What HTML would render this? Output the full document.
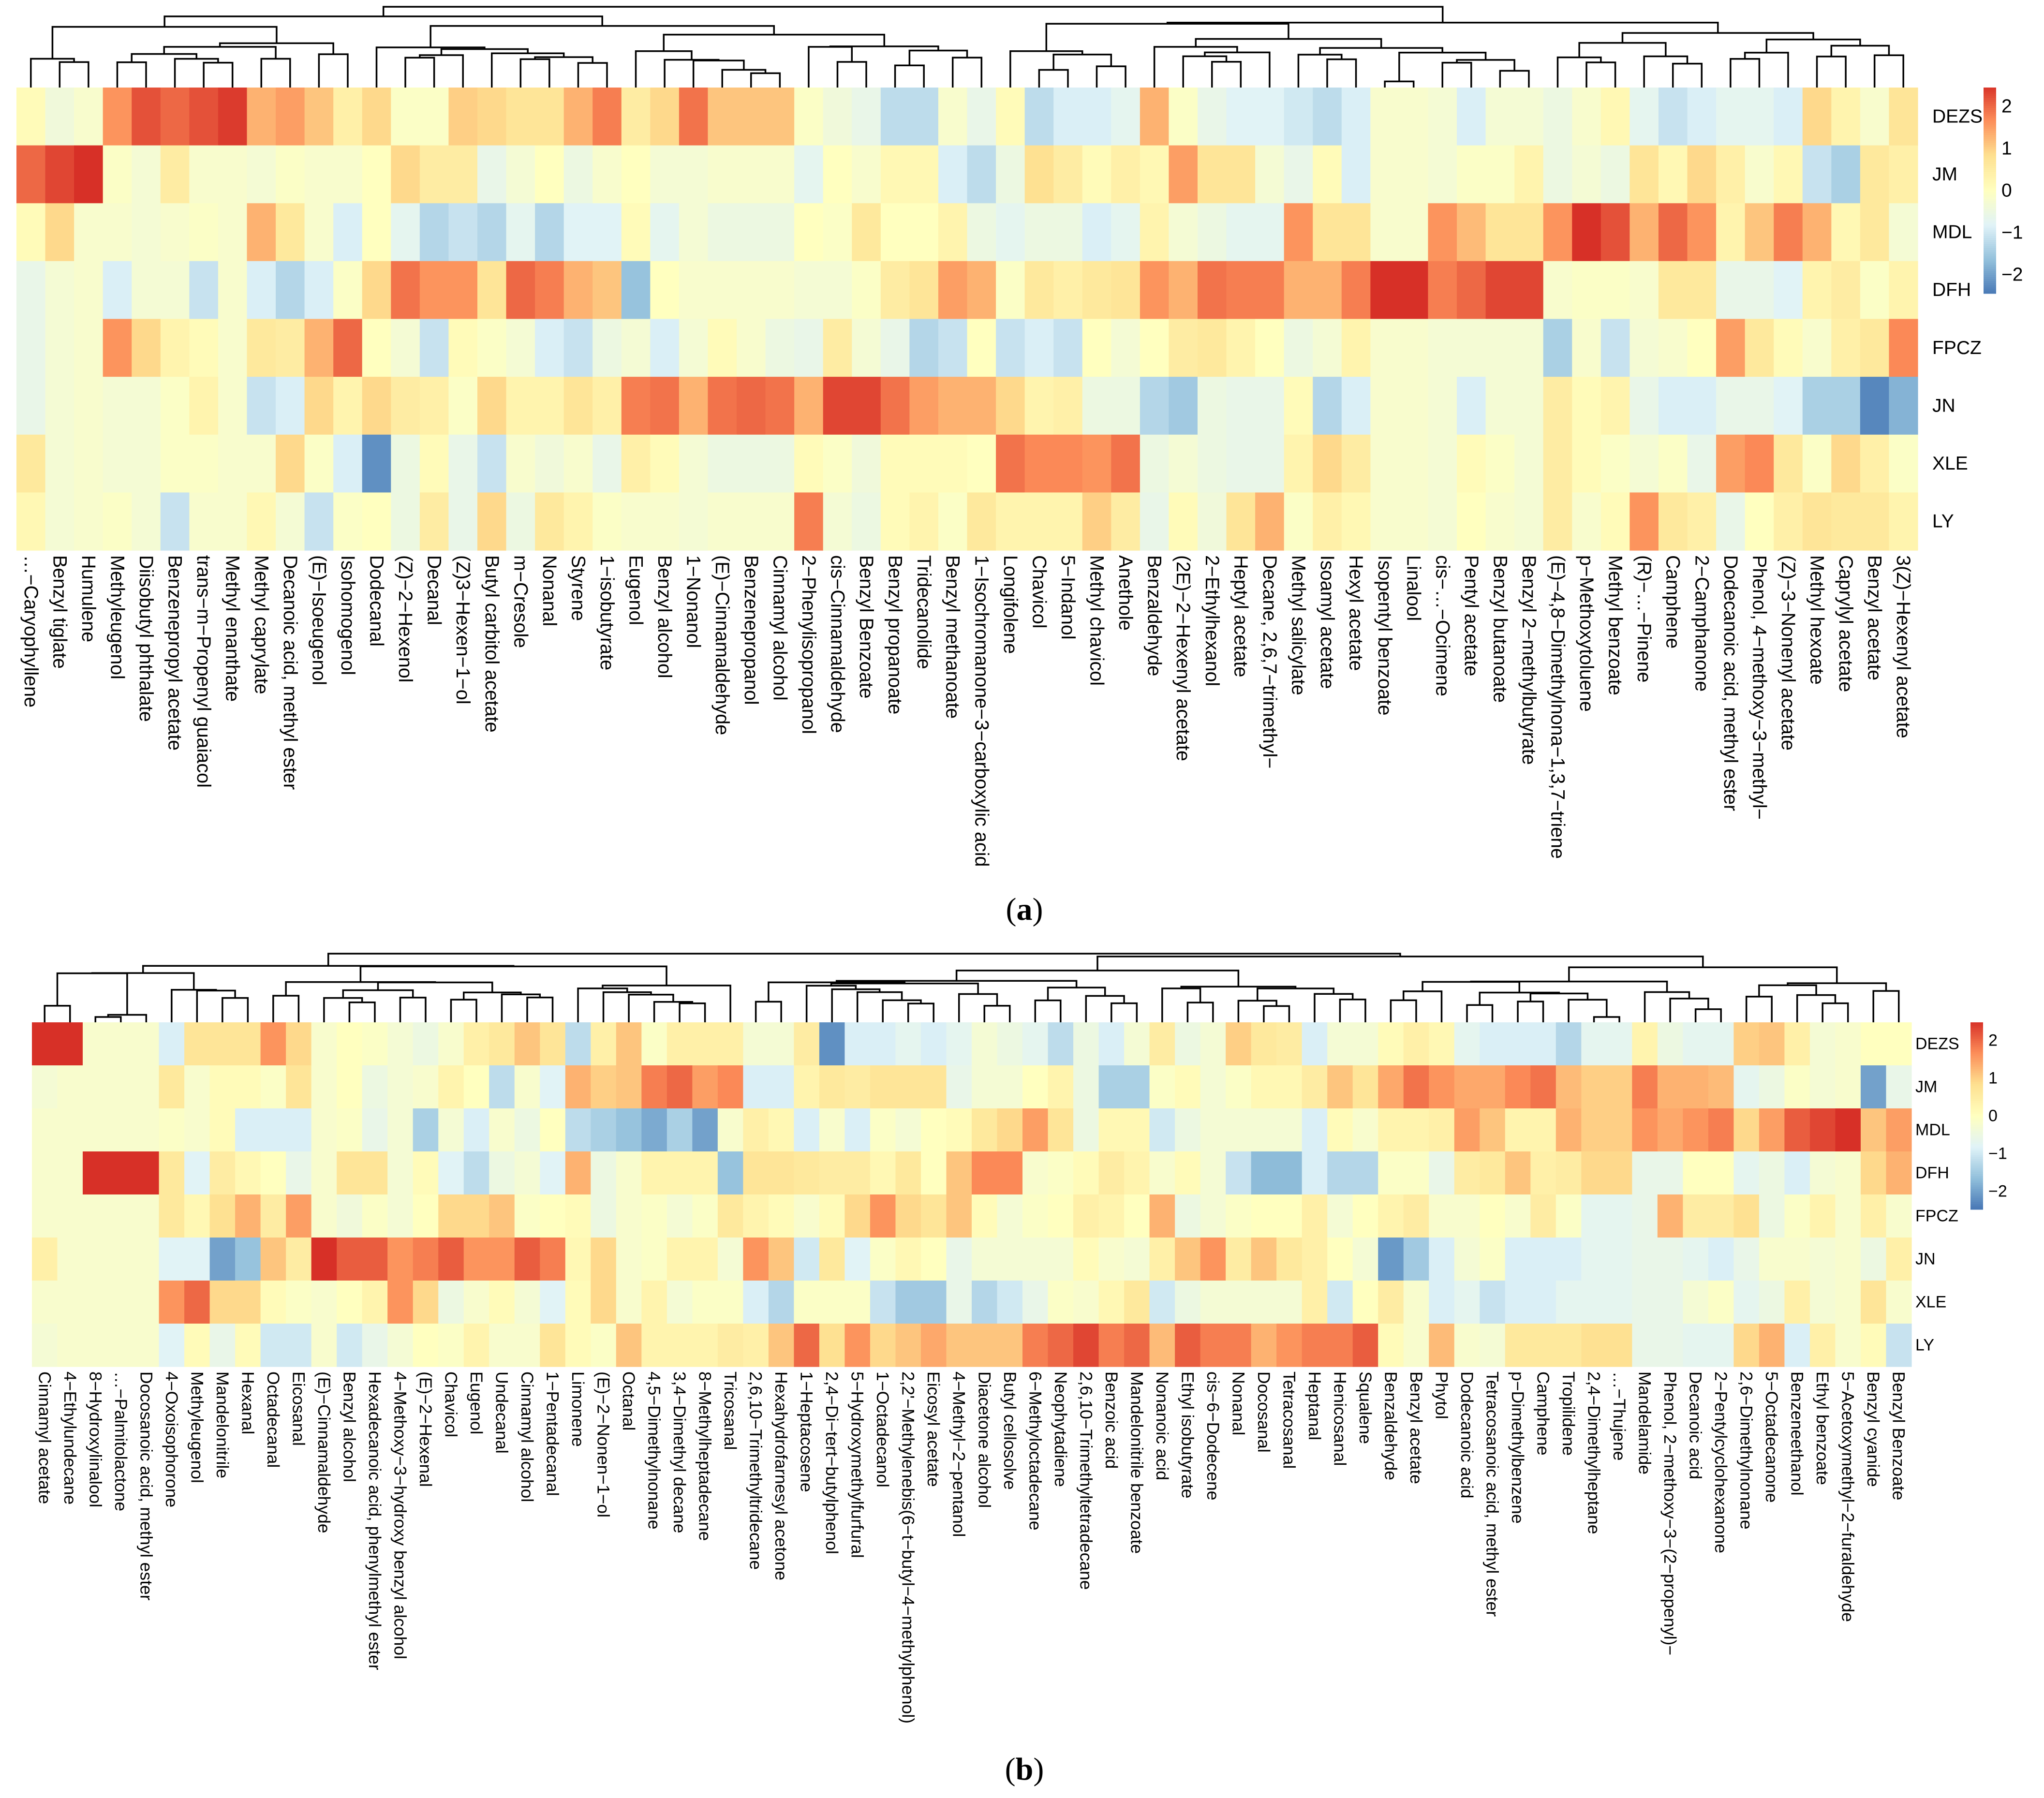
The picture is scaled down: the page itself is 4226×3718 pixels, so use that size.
<!DOCTYPE html>
<html><head><meta charset="utf-8"><style>
html,body{margin:0;padding:0;background:#fff;}
svg{display:block;font-family:"Liberation Sans",sans-serif;}
</style></head><body>
<svg id="fig" width="4226" height="3718" viewBox="0 0 4226 3718" xmlns="http://www.w3.org/2000/svg">
<rect width="4226" height="3718" fill="#fff"/>
<g id="panelA"></g>
<g id="panelB"></g>
<text x="2118" y="1902" text-anchor="middle" font-family="Liberation Serif, serif" font-size="66">(<tspan font-weight="bold">a</tspan>)</text>
<text x="2118" y="3680" text-anchor="middle" font-family="Liberation Serif, serif" font-size="66">(<tspan font-weight="bold">b</tspan>)</text>
</svg>
<script>
const rowsA = ["DEZS","JM","MDL","DFH","FPCZ","JN","XLE","LY"];
const colsA = ["…−Caryophyllene","Benzyl tiglate","Humulene","Methyleugenol","Diisobutyl phthalate","Benzenepropyl acetate","trans−m−Propenyl guaiacol","Methyl enanthate","Methyl caprylate","Decanoic acid, methyl ester","(E)−Isoeugenol","Isohomogenol","Dodecanal","(Z)−2−Hexenol","Decanal","(Z)3−Hexen−1−ol","Butyl carbitol acetate","m−Cresole","Nonanal","Styrene","1−isobutyrate","Eugenol","Benzyl alcohol","1−Nonanol","(E)−Cinnamaldehyde","Benzenepropanol","Cinnamyl alcohol","2−Phenylisopropanol","cis−Cinnamaldehyde","Benzyl Benzoate","Benzyl propanoate","Tridecanolide","Benzyl methanoate","1−Isochromanone−3−carboxylic acid","Longifolene","Chavicol","5−Indanol","Methyl chavicol","Anethole","Benzaldehyde","(2E)−2−Hexenyl acetate","2−Ethylhexanol","Heptyl acetate","Decane, 2,6,7−trimethyl−","Methyl salicylate","Isoamyl acetate","Hexyl acetate","Isopentyl benzoate","Linalool","cis−…−Ocimene","Pentyl acetate","Benzyl butanoate","Benzyl 2−methylbutyrate","(E)−4,8−Dimethylnona−1,3,7−triene","p−Methoxytoluene","Methyl benzoate","(R)−…−Pinene","Camphene","2−Camphanone","Dodecanoic acid, methyl ester","Phenol, 4−methoxy−3−methyl−","(Z)−3−Nonenyl acetate","Methyl hexoate","Caprylyl acetate","Benzyl acetate","3(Z)−Hexenyl acetate"];
const aDEZS = [0.1,-0.4,-0.2,1.6,2.2,2.0,2.2,2.4,1.3,1.5,1.1,0.4,0.9,-0.1,-0.1,1.0,0.9,0.7,0.7,1.3,1.8,0.5,0.9,1.9,1.1,1.1,1.1,-0.1,-0.4,-0.6,-1.2,-1.2,-0.2,-0.6,0.1,-1.2,-0.9,-0.9,-0.7,1.3,-0.1,-0.6,-0.8,-0.8,-1.0,-1.2,-0.9,-0.2,-0.2,-0.3,-0.9,-0.3,-0.3,-0.5,-0.2,0.2,-0.7,-1.1,-0.9,-0.7,-0.7,-0.9,0.9,0.3,-0.2,0.7];
const aJM = [2.0,2.3,2.5,-0.1,-0.3,0.5,-0.2,-0.2,-0.3,-0.1,-0.2,-0.2,0.0,0.9,0.5,0.5,-0.6,-0.3,0.0,-0.5,-0.2,0.0,-0.3,-0.3,-0.2,-0.2,-0.2,-0.7,0.0,-0.2,0.2,0.2,-0.9,-1.2,-0.5,0.8,0.5,0.1,0.4,0.2,1.5,0.7,0.7,-0.3,-0.6,0.1,-0.9,-0.2,-0.2,-0.3,-0.1,-0.1,0.3,-0.5,-0.3,-0.5,0.7,0.2,0.9,0.4,-0.2,0.2,-1.1,-1.4,0.6,0.4];
const aMDL = [0.1,0.9,-0.2,-0.2,-0.3,-0.2,-0.1,-0.2,1.3,0.6,-0.2,-0.9,0.0,-0.7,-1.3,-1.1,-1.3,-0.7,-1.3,-0.8,-0.8,0.1,-0.7,-0.3,-0.5,-0.5,-0.5,0.0,-0.1,0.6,0.0,0.0,0.3,-0.5,-0.7,-0.5,-0.5,-0.9,-0.7,0.3,-0.3,-0.5,-0.7,-0.7,1.6,0.7,0.7,-0.2,-0.2,1.6,1.2,0.7,0.7,1.6,2.5,2.2,1.3,2.0,1.6,0.3,1.1,1.8,1.3,0.2,0.6,-0.3];
const aDFH = [-0.6,-0.3,-0.2,-0.9,-0.3,-0.3,-1.1,-0.2,-0.9,-1.3,-0.9,-0.1,0.9,1.9,1.6,1.6,0.7,2.0,1.8,1.3,1.1,-1.6,0.0,-0.2,-0.2,-0.2,-0.2,-0.3,-0.3,-0.1,0.5,0.7,1.5,1.3,-0.1,0.6,0.4,0.6,0.7,1.6,1.3,1.9,1.8,1.8,1.3,1.3,1.8,2.5,2.5,1.8,2.0,2.3,2.3,-0.2,-0.1,-0.1,-0.2,0.6,0.6,-0.6,-0.6,-0.8,0.3,0.5,-0.1,0.3];
const aFPCZ = [-0.6,-0.3,-0.2,1.6,0.9,0.3,0.1,-0.2,0.6,0.5,1.3,2.0,0.0,-0.3,-1.1,0.1,-0.1,-0.3,-0.9,-1.1,-0.5,-0.3,-0.9,-0.3,0.1,-0.2,-0.5,-0.6,0.5,-0.3,-0.6,-1.3,-1.1,0.0,-1.1,-0.9,-1.1,0.0,-0.3,0.0,0.5,0.6,0.3,0.0,-0.5,-0.3,0.3,-0.2,-0.2,-0.3,-0.3,-0.3,-0.3,-1.4,-0.2,-1.1,-0.3,-0.2,0.0,1.5,0.6,0.1,-0.2,0.4,0.6,1.7];
const aJN = [-0.6,-0.3,-0.2,-0.3,-0.3,-0.1,0.3,-0.2,-1.1,-0.9,0.9,0.3,0.9,0.5,0.4,-0.1,0.9,0.3,0.3,0.7,0.4,1.8,1.9,1.3,1.9,2.0,1.9,1.3,2.3,2.3,1.9,1.5,1.3,1.3,0.9,0.3,0.4,-0.5,-0.5,-1.3,-1.5,-0.5,-0.6,-0.6,0.1,-1.3,-0.9,-0.2,-0.2,-0.3,-0.9,-0.3,-0.3,0.5,0.1,0.3,-0.6,-0.9,-0.9,-0.6,-0.6,-0.8,-1.4,-1.4,-2.3,-1.8];
const aXLE = [0.6,-0.3,-0.2,-0.3,-0.3,-0.1,-0.1,-0.2,-0.2,0.9,-0.1,-0.9,-2.2,-0.5,0.1,-0.6,-1.1,-0.2,-0.4,-0.2,-0.6,0.4,0.1,-0.3,-0.5,-0.5,-0.5,0.1,-0.1,-0.4,0.1,0.1,0.1,0.0,1.9,1.7,1.7,1.6,1.9,-0.5,-0.3,-0.5,-0.6,-0.6,0.3,0.9,0.5,-0.2,-0.2,-0.3,0.1,-0.1,-0.3,0.5,0.1,-0.1,-0.3,-0.1,-0.6,1.5,1.7,0.6,-0.1,0.9,0.4,-0.1];
const aLY = [0.2,-0.3,-0.2,-0.1,-0.3,-1.1,-0.2,-0.2,0.2,-0.3,-1.1,-0.1,0.0,-0.5,0.5,-0.6,0.9,-0.5,0.6,0.3,-0.1,-0.2,-0.2,-0.3,-0.2,-0.2,-0.2,1.8,-0.3,-0.5,0.1,0.3,-0.1,0.6,0.3,0.3,0.3,1.0,0.5,-0.6,0.1,-0.4,0.7,1.3,-0.1,0.4,0.2,-0.2,-0.2,-0.3,0.0,-0.2,-0.3,0.5,-0.2,0.1,1.6,0.6,0.4,-0.6,0.0,0.4,0.7,0.6,0.6,0.3];

const rowsB = ["DEZS","JM","MDL","DFH","FPCZ","JN","XLE","LY"];
const colsB = ["Cinnamyl acetate","4−Ethylundecane","8−Hydroxylinalool","…−Palmitolactone","Docosanoic acid, methyl ester","4−Oxoisophorone","Methyleugenol","Mandelonitrile","Hexanal","Octadecanal","Eicosanal","(E)−Cinnamaldehyde","Benzyl alcohol","Hexadecanoic acid, phenylmethyl ester","4−Methoxy−3−hydroxy benzyl alcohol","(E)−2−Hexenal","Chavicol","Eugenol","Undecanal","Cinnamyl alcohol","1−Pentadecanal","Limonene","(E)−2−Nonen−1−ol","Octanal","4,5−Dimethylnonane","3,4−Dimethyl decane","8−Methylheptadecane","Tricosanal","2,6,10−Trimethyltridecane","Hexahydrofarnesyl acetone","1−Heptacosene","2,4−Di−tert−butylphenol","5−Hydroxymethylfurfural","1−Octadecanol","2,2'−Methylenebis(6−t−butyl−4−methylphenol)","Eicosyl acetate","4−Methyl−2−pentanol","Diacetone alcohol","Butyl cellosolve","6−Methyloctadecane","Neophytadiene","2,6,10−Trimethyltetradecane","Benzoic acid","Mandelonitrile benzoate","Nonanoic acid","Ethyl isobutyrate","cis−6−Dodecene","Nonanal","Docosanal","Tetracosanal","Heptanal","Henicosanal","Squalene","Benzaldehyde","Benzyl acetate","Phytol","Dodecanoic acid","Tetracosanoic acid, methyl ester","p−Dimethylbenzene","Camphene","Tropilidene","2,4−Dimethylheptane","…−Thujene","Mandelamide","Phenol, 2−methoxy−3−(2−propenyl)−","Decanoic acid","2−Pentylcyclohexanone","2,6−Dimethylnonane","5−Octadecanone","Benzeneethanol","Ethyl benzoate","5−Acetoxymethyl−2−furaldehyde","Benzyl cyanide","Benzyl Benzoate"];
const bDEZS = [2.5,2.5,-0.2,-0.2,-0.2,-0.9,0.7,0.7,0.7,1.6,0.9,-0.2,0.0,-0.1,-0.3,-0.5,-0.2,0.4,0.6,1.1,0.7,-1.2,0.4,1.1,-0.1,0.4,0.4,0.4,-0.3,-0.3,0.5,-2.2,-0.9,-0.9,-0.7,-0.9,-0.7,-0.3,-0.5,-0.7,-1.2,-0.5,-0.9,-0.3,0.5,-0.5,-0.3,1.0,0.6,0.5,-0.9,-0.3,-0.3,0.1,0.4,0.2,-0.7,-0.9,-0.9,-0.9,-1.3,-0.7,-0.7,0.3,-0.5,-0.7,-0.7,1.0,1.1,0.4,-0.3,-0.2,0.0,0.0];
const bJM = [-0.3,-0.2,-0.2,-0.2,-0.2,0.6,-0.2,0.1,0.1,-0.1,0.7,-0.2,0.0,-0.5,-0.3,-0.2,0.3,0.0,-1.2,-0.2,-0.8,1.3,1.0,1.1,1.8,2.0,1.5,1.7,-0.9,-0.9,0.3,0.6,0.5,0.7,0.7,0.7,-0.6,-0.3,-0.3,0.0,0.3,-0.5,-1.4,-1.4,-0.1,0.1,-0.3,-0.1,0.2,0.2,0.5,1.1,0.7,1.4,1.9,1.6,1.4,1.4,1.7,1.9,1.2,1.0,1.0,1.8,1.3,1.3,1.2,-0.7,-0.5,-0.1,-0.3,-0.2,-2.0,-0.6];
const bMDL = [-0.2,-0.2,-0.2,-0.2,-0.2,-0.1,-0.2,0.1,-0.9,-0.9,-0.9,-0.2,-0.1,-0.6,-0.3,-1.4,-0.3,-0.9,-0.2,-0.5,0.0,-1.2,-1.4,-1.6,-1.9,-1.4,-2.0,-0.2,0.4,0.2,-0.9,-0.2,-0.9,-0.1,-0.3,0.0,0.1,0.6,0.9,1.5,0.7,-0.5,0.2,0.2,-1.0,-0.5,-0.3,-0.3,-0.3,-0.3,-0.9,0.1,-0.2,0.3,0.3,0.4,1.5,1.1,0.3,0.3,1.3,1.0,1.0,1.6,1.4,1.6,1.8,0.9,1.5,2.1,2.3,2.5,1.1,1.5];
const bDFH = [-0.2,-0.2,2.5,2.5,2.5,0.6,-0.8,0.5,0.2,0.0,-0.6,-0.2,0.7,0.7,-0.3,0.1,-0.8,-1.2,-0.5,-0.3,-0.8,1.3,-0.5,-0.2,0.3,0.3,0.3,-1.6,0.7,0.7,0.6,0.5,0.5,0.2,0.6,0.0,1.1,1.7,1.7,-0.2,-0.1,0.1,0.5,0.3,-0.2,0.1,-0.3,-1.1,-1.7,-1.7,-0.9,-1.3,-1.3,-0.1,-0.1,-0.6,0.5,0.6,1.1,0.4,0.5,0.9,0.9,-0.6,-0.6,0.0,0.0,-0.7,-0.5,-0.9,-0.3,-0.2,0.9,1.3];
const bFPCZ = [-0.2,-0.2,-0.2,-0.2,-0.2,0.6,0.2,0.8,1.3,0.5,1.5,-0.2,-0.4,-0.1,-0.3,0.0,0.9,0.9,1.1,-0.1,0.0,0.1,-0.5,-0.2,-0.1,-0.3,-0.1,0.6,0.3,0.1,-0.2,0.1,0.9,1.6,0.9,0.7,1.1,0.1,-0.3,-0.1,0.0,0.4,0.3,0.0,1.3,-0.5,-0.3,-0.1,0.0,0.0,0.4,-0.3,0.0,0.3,0.5,-0.2,-0.2,0.0,-0.2,0.5,-0.1,-0.7,-0.7,-0.6,1.3,0.5,0.5,0.8,-0.5,-0.1,0.3,-0.2,0.4,-0.2];
const bJN = [0.4,-0.2,-0.2,-0.2,-0.2,-0.8,-0.8,-2.0,-1.6,1.1,0.5,2.5,2.1,2.1,1.6,1.8,2.1,1.6,1.6,2.1,1.8,0.2,0.9,-0.2,-0.1,0.3,0.3,-0.3,1.6,1.1,-1.0,0.6,-0.8,-0.1,0.2,0.0,-0.6,-0.3,-0.3,-0.3,-0.3,0.1,-0.2,-0.3,0.4,1.1,1.6,0.5,1.1,0.6,0.4,0.0,-0.3,-2.1,-1.5,-0.9,-0.3,-0.1,-0.9,-0.9,-0.9,-0.7,-0.7,-0.6,-0.6,-0.7,-0.9,-0.6,-0.2,-0.2,-0.3,-0.2,-0.5,0.4];
const bXLE = [-0.2,-0.2,-0.2,-0.2,-0.2,1.6,2.0,0.9,0.9,0.1,-0.1,-0.2,0.0,0.3,1.6,0.9,-0.5,-0.2,0.1,-0.3,-0.8,0.1,0.9,-0.2,0.3,-0.3,-0.1,-0.1,-0.9,-1.3,-0.1,-0.1,-0.1,-1.1,-1.5,-1.5,-0.6,-1.3,-1.0,-0.6,-0.1,-0.2,0.2,0.6,-1.0,-0.5,-0.3,-0.3,-0.3,-0.3,0.4,-1.0,0.0,0.5,-0.2,-0.9,-0.7,-1.1,-0.9,-0.9,-0.7,-0.7,-0.7,-0.6,-0.6,-0.3,-0.1,-0.7,-0.5,0.4,-0.3,-0.2,0.7,-0.2];
const bLY = [-0.3,-0.2,-0.2,-0.2,-0.2,-0.8,0.1,-0.6,0.1,-1.0,-1.0,-0.2,-1.0,-0.6,-0.3,0.0,-0.1,0.3,-0.2,-0.2,0.7,0.1,-0.1,1.1,0.3,0.3,0.3,0.5,0.4,1.1,2.0,0.8,1.6,0.9,1.1,1.4,1.1,1.1,1.1,1.8,2.0,2.3,1.8,2.0,1.2,2.1,1.8,1.8,1.3,1.6,1.8,1.8,2.1,0.1,-0.2,1.2,-0.2,-0.3,0.6,0.6,0.6,0.8,0.8,-0.6,-0.6,-0.7,-0.7,0.9,1.3,-0.9,0.4,-0.2,0.1,-1.1];

const legendTicks = [-2,-1,0,1,2];

const NS = "http://www.w3.org/2000/svg";
const stops = ["#4575B4","#91BFDB","#E0F3F8","#FFFFBF","#FEE090","#FC8D59","#D73027"];
function hex(c){return [parseInt(c.slice(1,3),16),parseInt(c.slice(3,5),16),parseInt(c.slice(5,7),16)];}
function colorOf(v, vmax){
  let t = (v + vmax) / (2*vmax); t = Math.max(0, Math.min(1, t));
  const p = t*(stops.length-1); const i = Math.min(stops.length-2, Math.floor(p)); const f = p - i;
  const a = hex(stops[i]), b = hex(stops[i+1]);
  return "rgb(" + a.map((x,k)=>Math.round(x+(b[k]-x)*f)).join(",") + ")";
}
function el(tag, attrs, parent){
  const e = document.createElementNS(NS, tag);
  for (const k in attrs) e.setAttribute(k, attrs[k]);
  parent.appendChild(e); return e;
}

function drawPanel(g, cfg, rows, cols, mat){
  const n = cols.length, m = rows.length;
  const cw = (cfg.x1 - cfg.x0)/n, rh = (cfg.y1 - cfg.y0)/m;
  const xs = j => cfg.x0 + j*cw;
  const ys = i => cfg.y0 + i*rh;
  // cells
  for (let i=0;i<m;i++) for (let j=0;j<n;j++){
    const r = el("rect",{x:xs(j).toFixed(2),y:ys(i).toFixed(2),width:(cw+0.6).toFixed(2),height:(rh+0.6).toFixed(2),fill:colorOf(mat[i][j],2.5)},g);
    
    
  }
  // row labels
  for (let i=0;i<m;i++){
    const t = el("text",{x:cfg.rowLabelX,y:ys(i)+rh/2,"font-size":cfg.rowFont,"dominant-baseline":"central"},g);
    t.textContent = rows[i];
    
    
  }
  // column labels
  for (let j=0;j<n;j++){
    const cx = xs(j)+cw/2, y0 = cfg.y1 + 10;
    const t = el("text",{x:cx,y:y0,"font-size":cfg.colFont,"dominant-baseline":"central",transform:"rotate(90 "+cx+" "+y0+")"},g);
    t.textContent = cols[j];
    
    
  }
  // legend
  const L = cfg.legend;
  const steps = 100;
  const lh = (L.y1 - L.y0)/steps;
  for (let s=0;s<steps;s++){
    const v = L.vmax - (s+0.5)*(2*L.vmax/steps);
    const r = el("rect",{x:L.x0,y:(L.y0+s*lh).toFixed(2),width:L.x1-L.x0,height:(lh+0.5).toFixed(2),fill:colorOf(v,2.5)},g);
    
    
  }
  const vy = v => L.y0 + (L.vmax - v)/(2*L.vmax)*(L.y1-L.y0);
  legendTicks.forEach(v=>{
    const t = el("text",{x:L.tx,y:vy(v),"font-size":cfg.rowFont,"dominant-baseline":"central"},g);
    t.textContent = v<0 ? "−"+Math.abs(v) : String(v);
    
    
  });
  // dendrogram (adjacency-constrained agglomeration on columns)
  let cl = [];
  for (let j=0;j<n;j++) cl.push({x:xs(j)+cw/2, h:0, size:1, c:mat.map(r=>r[j])});
  const merges = [];
  while (cl.length>1){
    let best=-1, bd=Infinity;
    for (let k=0;k<cl.length-1;k++){
      const a=cl[k].c,b=cl[k+1].c; let d=0;
      for (let q=0;q<a.length;q++) d+=(a[q]-b[q])**2;
      d=Math.sqrt(d)*Math.sqrt(cl[k].size*cl[k+1].size/(cl[k].size+cl[k+1].size));
      if (d<bd){bd=d;best=k;}
    }
    const A=cl[best],B=cl[best+1];
    const h=Math.max(bd,A.h,B.h)+0.05;
    merges.push({ax:A.x,ah:A.h,bx:B.x,bh:B.h,h:h});
    const sz=A.size+B.size;
    cl.splice(best,2,{x:(A.x+B.x)/2,h:h,size:sz,c:A.c.map((v,q)=>(v*A.size+B.c[q]*B.size)/sz)});
  }
  const maxH = cl[0].h;
  const hy = h => cfg.y0 - Math.sqrt(h/maxH)*(cfg.y0 - cfg.dendTop);
  const dg = el("g",{stroke:"#000","stroke-width":3.5,fill:"none"},g);
  
  
  merges.forEach(mg=>{
    const p = el("path",{d:"M"+mg.ax+" "+hy(mg.ah)+"V"+hy(mg.h)+"H"+mg.bx+"V"+hy(mg.bh)},dg);
    
    
  });
}

drawPanel(document.getElementById("panelA"),
  {x0:34,x1:3965,y0:181,y1:1138,dendTop:14,colFont:39.5,rowFont:39,rowLabelX:3995,
   legend:{x0:4101,x1:4127,y0:181,y1:607,vmax:2.45,tx:4138}},
  rowsA, colsA, [aDEZS,aJM,aMDL,aDFH,aFPCZ,aJN,aXLE,aLY]);
drawPanel(document.getElementById("panelB"),
  {x0:66,x1:3952,y0:2114,y1:2826,dendTop:1972,colFont:35.5,rowFont:34,rowLabelX:3960,
   legend:{x0:4074,x1:4100,y0:2114,y1:2501,vmax:2.48,tx:4111}},
  rowsB, colsB, [bDEZS,bJM,bMDL,bDFH,bFPCZ,bJN,bXLE,bLY]);
</script>
</body></html>
